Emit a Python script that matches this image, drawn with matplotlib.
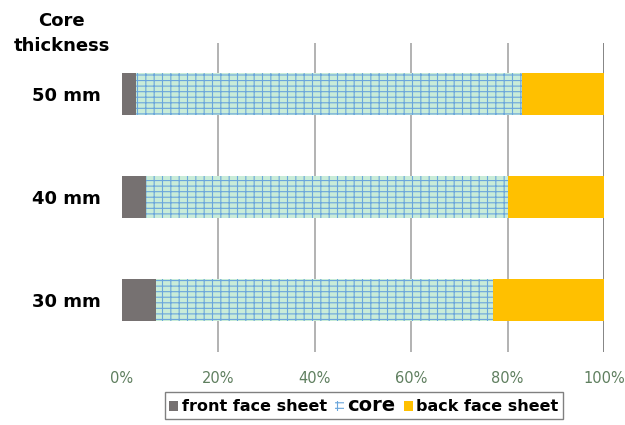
import numpy as np
import matplotlib
matplotlib.use("Agg")
import matplotlib.pyplot as plt
from matplotlib.patches import Patch
from matplotlib.ticker import PercentFormatter

# data (share of total thickness, %)
thickness = ["30 mm", "40 mm", "50 mm"]
front_face = [7, 5, 3]
core = [70, 75, 80]
back_face = [23, 20, 17]
tick_vals = [0, 20, 40, 60, 80, 100]

grey = "#767171"
yellow = "#ffc000"
core_fill = "#c9ecd8"
core_line = "#6aa6dc"

plt.rcParams["hatch.linewidth"] = 0.8

fig = plt.figure(figsize=(6.25, 4.25), dpi=100)
ax = fig.add_axes([0.1952, 0.1729, 0.7712, 0.727])

y = np.arange(len(thickness))
h = 0.4
ax.barh(y, front_face, height=h, color=grey, zorder=3)
ax.barh(y, core, left=front_face, height=h, color=core_fill,
        edgecolor=core_line, hatch="---||", linewidth=0, zorder=3)
left2 = np.array(front_face) + np.array(core)
ax.barh(y, back_face, left=left2, height=h, color=yellow, zorder=3)

ax.set_xlim(0, 100)
ax.set_ylim(-0.5, 2.5)
ax.set_xticks(tick_vals)
ax.xaxis.set_major_formatter(PercentFormatter(decimals=0))
for v in tick_vals[1:]:
    ax.axvline(v, color="#707070" if v == 100 else "#a6a6a6", lw=1.2, zorder=1)

ax.set_yticks(y)
ax.set_yticklabels(thickness, fontsize=13, fontweight="bold")
ax.tick_params(axis="y", length=0, pad=15)
ax.tick_params(axis="x", length=0, pad=14, labelsize=10.5, labelcolor="#5f7f5f")
for s in ax.spines.values():
    s.set_visible(False)

fig.text(0.099, 0.922, "Core\nthickness", ha="center", va="center",
         fontsize=13, fontweight="bold", linespacing=1.5)

handles = [
    Patch(facecolor=grey),
    Patch(facecolor="white", edgecolor=core_line, hatch="---||", linewidth=0),
    Patch(facecolor=yellow),
]
leg = fig.legend(handles, ["front face sheet", "core", "back face sheet"],
                 loc="upper center", bbox_to_anchor=(0.582, 0.077), ncol=3,
                 frameon=True, fancybox=False, edgecolor="#606060",
                 handlelength=0.6, handleheight=0.6, handletextpad=0.2,
                 columnspacing=0.5, borderpad=0.25, borderaxespad=0,
                 prop={"weight": "bold", "size": 11.5})
leg.get_frame().set_linewidth(1.0)
leg.get_texts()[1].set_fontsize(14)

fig.savefig("out.png", dpi=100)
